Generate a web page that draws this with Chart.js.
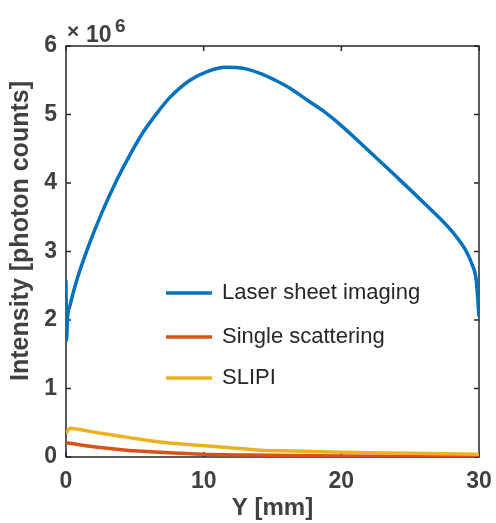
<!DOCTYPE html>
<html>
<head>
<meta charset="utf-8">
<script src="https://cdn.jsdelivr.net/npm/chart.js@4.4.1/dist/chart.umd.min.js"></script>
<style>
  body { margin: 0; background: #fff; }
</style>
</head>
<body>
<canvas id="intensityChart" width="496" height="523"></canvas>
<script>
// values, intensity in units of 1e6 photon counts
const laserX = [0, 0.03, 0.12, 0.3, 0.78, 1.62, 2.59, 3.68, 4.4, 5.6, 6.8, 7.55, 9.0, 10.3, 11.6, 13.0, 14.1, 15.2, 16.3, 17.6, 18.9, 20.1, 21.4, 23.8, 26.2, 28.1, 29.0, 29.5, 29.8, 30];
const laserY = [2.58, 1.70, 2.05, 2.22, 2.58, 3.07, 3.56, 4.04, 4.32, 4.74, 5.07, 5.25, 5.50, 5.63, 5.69, 5.67, 5.60, 5.50, 5.38, 5.20, 5.02, 4.82, 4.58, 4.13, 3.67, 3.28, 3.03, 2.81, 2.58, 2.05];

const singleX = [0, 2, 4.4, 6.8, 10, 15, 20, 25, 30];
const singleY = [0.21, 0.15, 0.10, 0.07, 0.04, 0.025, 0.015, 0.012, 0.01];

const slipiX = [0, 0.3, 1, 2.4, 4.4, 6.8, 9.3, 11.7, 14.1, 16.5, 20, 25, 30];
const slipiY = [0.35, 0.42, 0.40, 0.35, 0.29, 0.22, 0.175, 0.14, 0.10, 0.088, 0.07, 0.055, 0.04];

const seriesNames = ["Laser sheet imaging", "Single scattering", "SLIPI"];
const seriesColors = ["#0072BD", "#D95319", "#EDB120"];

const xTicks = [0, 10, 20, 30];
const yTicks = [0, 1, 2, 3, 4, 5, 6];

const xTitle = "Y [mm]";
const yTitle = "Intensity [photon counts]";

const FONT = "'Liberation Sans', Arial, Helvetica, sans-serif";
const TEXT_COLOR = "#404040";
const AXIS_COLOR = "#262626";

function toPoints(xs, ys) {
  return xs.map((x, i) => ({ x: x, y: ys[i] }));
}

// box round the plot, inward ticks on all four sides, y title, exponent, legend
const boxPlugin = {
  id: "box",
  beforeDatasetsDraw(chart) {
    const ctx = chart.ctx;
    const ca = chart.chartArea;
    const xs = chart.scales.x;
    const ys = chart.scales.y;
    const len = 5;
    ctx.save();
    ctx.strokeStyle = AXIS_COLOR;
    ctx.lineWidth = 1.5;
    ctx.strokeRect(ca.left, ca.top, ca.right - ca.left, ca.bottom - ca.top);
    ctx.beginPath();
    xTicks.forEach(v => {
      const px = xs.getPixelForValue(v);
      ctx.moveTo(px, ca.bottom); ctx.lineTo(px, ca.bottom - len);
      ctx.moveTo(px, ca.top); ctx.lineTo(px, ca.top + len);
    });
    yTicks.forEach(v => {
      const py = ys.getPixelForValue(v);
      ctx.moveTo(ca.left, py); ctx.lineTo(ca.left + len, py);
      ctx.moveTo(ca.right, py); ctx.lineTo(ca.right - len, py);
    });
    ctx.stroke();
    ctx.restore();
  },
  afterDraw(chart) {
    const ctx = chart.ctx;
    const ca = chart.chartArea;
    ctx.save();

    // y axis title (sits a bit above the axis centre, as in the figure)
    ctx.save();
    ctx.translate(21, ca.top + 185);
    ctx.rotate(-Math.PI / 2);
    ctx.fillStyle = TEXT_COLOR;
    ctx.font = "bold 25px " + FONT;
    ctx.textAlign = "center";
    ctx.textBaseline = "middle";
    ctx.fillText(yTitle, 0, 0);
    ctx.restore();

    // exponent label
    ctx.fillStyle = TEXT_COLOR;
    ctx.textBaseline = "alphabetic";
    ctx.textAlign = "left";
    ctx.font = "bold 21px " + FONT;
    ctx.fillText("\u00d7", ca.left + 1, ca.top - 8);
    ctx.font = "bold 23px " + FONT;
    ctx.fillText("10", ca.left + 20, ca.top - 4);
    ctx.font = "bold 19px " + FONT;
    ctx.fillText("6", ca.left + 49, ca.top - 14);

    // legend inside the axes
    const rows = [ca.top + 247, ca.top + 291, ca.top + 332];
    chart.data.datasets.forEach((ds, i) => {
      const y = rows[i];
      ctx.strokeStyle = ds.borderColor;
      ctx.lineWidth = 3.5;
      ctx.beginPath();
      ctx.moveTo(ca.left + 100, y);
      ctx.lineTo(ca.left + 146, y);
      ctx.stroke();
      ctx.fillStyle = AXIS_COLOR;
      ctx.font = "22px " + FONT;
      ctx.textBaseline = "middle";
      ctx.fillText(ds.label, ca.left + 156, y);
    });
    ctx.restore();
  }
};

const ctx = document.getElementById("intensityChart").getContext("2d");
new Chart(ctx, {
  type: "line",
  data: {
    datasets: [
      { label: seriesNames[0], data: toPoints(laserX, laserY), borderColor: seriesColors[0], order: 2 },
      { label: seriesNames[1], data: toPoints(singleX, singleY), borderColor: seriesColors[1], order: 1 },
      { label: seriesNames[2], data: toPoints(slipiX, slipiY), borderColor: seriesColors[2], order: 0 }
    ]
  },
  options: {
    responsive: false,
    animation: false,
    devicePixelRatio: 1,
    datasets: {
      line: {
        borderWidth: 3.5,
        pointRadius: 0,
        fill: false,
        cubicInterpolationMode: "monotone"
      }
    },
    layout: { padding: { top: 46, right: 17, left: 0, bottom: 0 } },
    plugins: {
      legend: { display: false },
      tooltip: { enabled: false }
    },
    scales: {
      x: {
        type: "linear",
        min: 0,
        max: 30,
        afterFit: s => { s.height = 66; s.paddingLeft = 0; s.paddingRight = 0; },
        afterBuildTicks: s => { s.ticks = xTicks.map(v => ({ value: v })); },
        grid: { display: false, drawTicks: false },
        border: { display: false },
        ticks: { color: TEXT_COLOR, font: { family: FONT, size: 23, weight: "bold" }, padding: 11, maxRotation: 0 },
        title: { display: true, text: xTitle, color: TEXT_COLOR, font: { family: FONT, size: 24, weight: "bold" }, padding: { top: 0, bottom: 0 } }
      },
      y: {
        type: "linear",
        min: 0,
        max: 6,
        afterFit: s => { s.width = 66; s.paddingTop = 0; s.paddingBottom = 0; },
        afterBuildTicks: s => { s.ticks = yTicks.map(v => ({ value: v })); },
        grid: { display: false, drawTicks: false },
        border: { display: false },
        ticks: { color: TEXT_COLOR, font: { family: FONT, size: 23, weight: "bold" }, padding: 9 },
        title: { display: false }
      }
    }
  },
  plugins: [boxPlugin]
});
</script>
</body>
</html>
